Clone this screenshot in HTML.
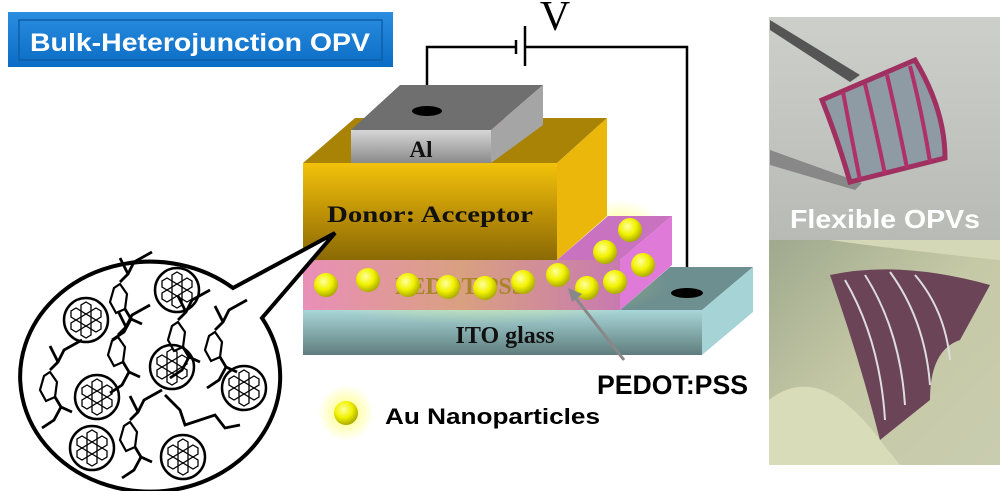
<!DOCTYPE html>
<html><head><meta charset="utf-8"><style>
html,body{margin:0;padding:0;background:#fff;}
svg{display:block;}
</style></head><body>
<svg width="1000" height="491" viewBox="0 0 1000 491" xmlns="http://www.w3.org/2000/svg">
<defs>
<linearGradient id="title" x1="0" y1="0" x2="0" y2="1"><stop offset="0" stop-color="#2b8ee0"/><stop offset="1" stop-color="#0a6cc4"/></linearGradient>
<linearGradient id="alF" x1="0" y1="0" x2="0" y2="1"><stop offset="0" stop-color="#d6d6d6"/><stop offset="1" stop-color="#8a8a8a"/></linearGradient>
<linearGradient id="daF" x1="0" y1="0" x2="0" y2="1"><stop offset="0" stop-color="#f3c20a"/><stop offset="0.6" stop-color="#b58a06"/><stop offset="1" stop-color="#8a6a05"/></linearGradient>
<linearGradient id="peF" x1="0" y1="0" x2="1" y2="0"><stop offset="0" stop-color="#e98fb8"/><stop offset="0.5" stop-color="#d9a080"/><stop offset="1" stop-color="#c87ab0"/></linearGradient>
<linearGradient id="itoF" x1="0" y1="0" x2="0" y2="1"><stop offset="0" stop-color="#a9d6d8"/><stop offset="1" stop-color="#5f7d7e"/></linearGradient>
<radialGradient id="ball" cx="0.4" cy="0.35" r="0.7"><stop offset="0" stop-color="#ffffa0"/><stop offset="0.5" stop-color="#f2f200"/><stop offset="1" stop-color="#a0a000"/></radialGradient>
<radialGradient id="glow"><stop offset="0" stop-color="#ffff60" stop-opacity="0.9"/><stop offset="1" stop-color="#ffff60" stop-opacity="0"/></radialGradient>
<linearGradient id="ph1" x1="0" y1="0" x2="0" y2="1"><stop offset="0" stop-color="#cdcfcb"/><stop offset="1" stop-color="#b8bab5"/></linearGradient>
<linearGradient id="ph2" x1="0" y1="0" x2="1" y2="1"><stop offset="0" stop-color="#9fa98e"/><stop offset="0.5" stop-color="#c6c9a6"/><stop offset="1" stop-color="#c9cdb0"/></linearGradient>
<g id="ful"><circle r="22" fill="#fff" stroke="#000" stroke-width="2.5"/><g fill="none" stroke="#000" stroke-width="1.3"><polygon points="0,-6 5,-3 5,3 0,6 -5,3 -5,-3"/><polygon points="0,-18 5,-15 5,-9 0,-6 -5,-9 -5,-15"/><polygon points="0,6 5,9 5,15 0,18 -5,15 -5,9"/><polygon points="10,-12 15,-9 15,-3 10,0 5,-3 5,-9"/><polygon points="-10,-12 -5,-9 -5,-3 -10,0 -15,-3 -15,-9"/><polygon points="10,0 15,3 15,9 10,12 5,9 5,3"/><polygon points="-10,0 -5,3 -5,9 -10,12 -15,9 -15,3"/></g></g>
<g id="chain" fill="none" stroke="#000" stroke-width="2.8"><polyline points="0,0 8,-8 14,-20 32,-30"/><polyline points="8,-8 0,-24"/><polygon points="0,2 7,12 5,27 -4,31 -10,20 -6,6" stroke-width="2.2"/><polyline points="5,27 11,37 22,42"/><polyline points="11,37 4,50 -8,58"/></g>
</defs>

<rect x="8" y="12" width="385" height="55" fill="url(#title)"/>
<rect x="19" y="20" width="363" height="40" fill="none" stroke="#0d5fa8" stroke-width="1.5"/>
<text x="200" y="51" text-anchor="middle" font-family="Liberation Sans, sans-serif" font-weight="bold" font-size="25" fill="#fff" textLength="340" lengthAdjust="spacingAndGlyphs">Bulk-Heterojunction OPV</text>

<g stroke="#000" stroke-width="2.5" fill="none">
<polyline points="427,111 427,47 516,47"/>
<polyline points="525,47 687,47 687,293"/>
<line x1="516" y1="40" x2="516" y2="54"/>
<line x1="525" y1="26" x2="525" y2="66"/>
</g>
<text x="555" y="30" text-anchor="middle" font-family="Liberation Serif, serif" font-size="42" fill="#000">V</text>

<polygon points="620,310 670,267 753,267 702,310" fill="#6e8f90"/>
<polygon points="702,310 753,267 753,312 702,355" fill="#a6d3d6"/>
<rect x="303" y="310" width="399" height="45" fill="url(#itoF)"/>
<text x="505" y="343" text-anchor="middle" font-family="Liberation Serif, serif" font-weight="bold" font-size="24" fill="#111">ITO glass</text>
<ellipse cx="687" cy="293" rx="16" ry="5" fill="#000"/>

<ellipse cx="480" cy="285" rx="190" ry="40" fill="url(#glow)" opacity="0.6"/>
<ellipse cx="620" cy="225" rx="40" ry="25" fill="url(#glow)" opacity="0.7"/>
<polygon points="557,260 608,216 672,216 620,260" fill="#c872c0"/>
<polygon points="620,260 672,216 672,265 620,310" fill="#e07ad8"/>
<rect x="303" y="260" width="317" height="50" fill="url(#peF)"/>
<text x="460" y="294" text-anchor="middle" font-family="Liberation Serif, serif" font-weight="bold" font-size="24" fill="#a8852a">PEDOT:PSS</text>

<polygon points="303,163 355,118 607,118 557,163" fill="#a98305"/>
<polygon points="557,163 607,118 607,216 557,260" fill="#eab70a"/>
<rect x="303" y="163" width="254" height="97" fill="url(#daF)"/>
<text x="430" y="222" text-anchor="middle" font-family="Liberation Serif, serif" font-weight="bold" font-size="23" fill="#111" textLength="206" lengthAdjust="spacingAndGlyphs">Donor: Acceptor</text>

<polygon points="351,130 400,85 543,85 491,130" fill="#6f6f6f"/>
<polygon points="491,130 543,85 543,125 491,163" fill="#a5a5a5"/>
<rect x="351" y="130" width="140" height="33" fill="url(#alF)"/>
<text x="421" y="157" text-anchor="middle" font-family="Liberation Serif, serif" font-weight="bold" font-size="23" fill="#111">Al</text>
<ellipse cx="427" cy="111" rx="15" ry="5" fill="#000"/>

<g fill="url(#ball)">
<circle cx="326" cy="285" r="12"/><circle cx="368" cy="280" r="12"/><circle cx="408" cy="285" r="12"/><circle cx="448" cy="287" r="12"/><circle cx="485" cy="288" r="12"/><circle cx="523" cy="282" r="12"/><circle cx="558" cy="275" r="12"/><circle cx="587" cy="288" r="12"/><circle cx="615" cy="282" r="12"/><circle cx="605" cy="252" r="12"/><circle cx="643" cy="265" r="12"/><circle cx="630" cy="230" r="12"/>
</g>

<line x1="624" y1="360" x2="574" y2="296" stroke="#888" stroke-width="3"/>
<polygon points="568,288 582,294 572,302" fill="#888"/>
<text x="597" y="394" font-family="Liberation Sans, sans-serif" font-weight="bold" font-size="27" fill="#000" textLength="151" lengthAdjust="spacingAndGlyphs">PEDOT:PSS</text>

<circle cx="346" cy="413" r="28" fill="url(#glow)"/>
<circle cx="346" cy="413" r="12" fill="url(#ball)"/>
<text x="385" y="424" font-family="Liberation Sans, sans-serif" font-weight="bold" font-size="22" fill="#000" textLength="215" lengthAdjust="spacingAndGlyphs">Au Nanoparticles</text>

<path d="M233,288 L335,233 L262,318 A130,115 0 1 1 233,288 Z" fill="#fff" stroke="#000" stroke-width="4" stroke-linejoin="miter"/>
<use href="#ful" x="177" y="290"/>
<use href="#ful" x="86" y="320"/>
<use href="#ful" x="172" y="367"/>
<use href="#ful" x="97" y="397"/>
<use href="#ful" x="244" y="388"/>
<use href="#ful" x="92" y="448"/>
<use href="#ful" x="183" y="457"/>
<use href="#chain" x="120" y="282"/>
<use href="#chain" x="118" y="335"/>
<use href="#chain" x="50" y="370"/>
<use href="#chain" x="178" y="320"/>
<use href="#chain" x="215" y="330"/>
<use href="#chain" x="130" y="420"/>
<g fill="none" stroke="#000" stroke-width="2.8"><polyline points="165,395 180,410 185,425 200,420 215,415 225,428 240,425"/></g>

<rect x="769" y="17" width="231" height="223" fill="url(#ph1)"/>
<polygon points="770,20 860,75 850,82 770,30" fill="#555"/>
<polygon points="770,150 862,183 855,190 770,165" fill="#888"/>
<path d="M822,100 L915,60 Q945,110 945,158 L850,182 Q838,140 822,100 Z" fill="#8e9aa4" stroke="#a03060" stroke-width="5"/>
<g stroke="#b0306a" stroke-width="4" fill="none"><path d="M843,92 Q852,140 860,180"/><path d="M865,84 Q876,130 885,174"/><path d="M887,75 Q898,122 907,168"/><path d="M910,66 Q922,112 930,162"/></g>
<text x="885" y="228" text-anchor="middle" font-family="Liberation Sans, sans-serif" font-weight="bold" font-size="26" fill="#fff" textLength="190" lengthAdjust="spacingAndGlyphs">Flexible OPVs</text>
<rect x="769" y="240" width="231" height="225" fill="url(#ph2)"/>
<path d="M830,275 Q900,260 990,285 L960,340 Q930,350 930,400 L880,440 Q860,360 830,275 Z" fill="#6b4458"/>
<g stroke="#ddd" stroke-width="2" fill="none"><path d="M845,280 Q880,340 885,420"/><path d="M865,275 Q900,330 905,405"/><path d="M890,272 Q925,320 930,385"/><path d="M915,275 Q945,310 950,360"/></g>
<path d="M769,400 Q820,360 880,440 L900,465 L769,465 Z" fill="#d9dcb8"/>
<path d="M830,240 Q900,250 1000,260 L1000,240 Z" fill="#d5d8b6"/>
</svg>
</body></html>
